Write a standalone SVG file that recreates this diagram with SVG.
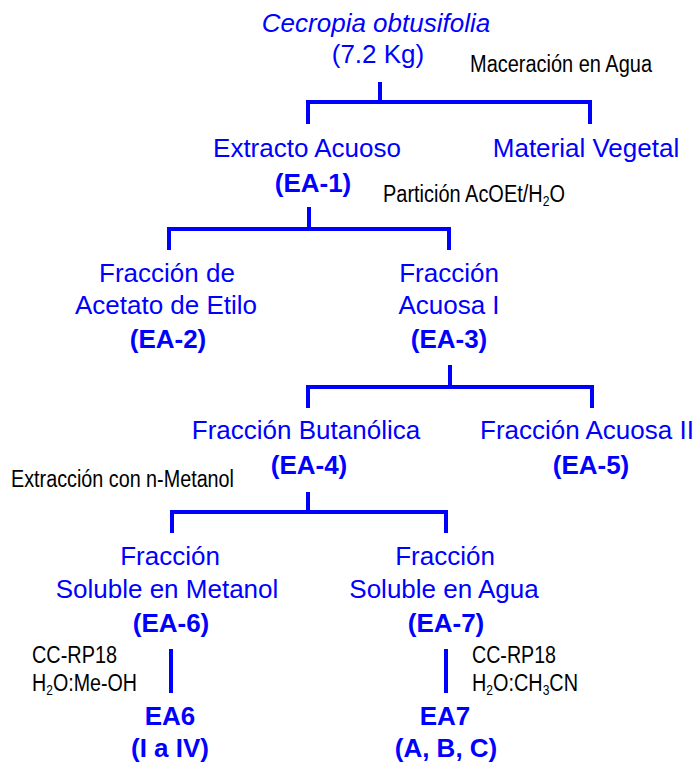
<svg xmlns="http://www.w3.org/2000/svg" width="698" height="765" viewBox="0 0 698 765">
<style>
.b{font-family:"Liberation Sans",Arial,sans-serif;font-size:26px;fill:#0000FF;text-anchor:middle}
.bb{font-weight:bold}
.it{font-style:italic}
.k{font-family:"Liberation Sans",Arial,sans-serif;font-size:23px;fill:#000000}
.s{font-size:14px;baseline-shift:-4px}
.ln{fill:none;stroke:#0000FF;stroke-width:4;stroke-linecap:butt;stroke-linejoin:miter}
</style>
<rect width="698" height="765" fill="#FFFFFF"/>
<g id="connectors">
<path class="ln" d="M380,82 V102 M308,124 V102 H590 V124"/>
<path class="ln" d="M309,207 V229 M169,250 V229 H449 V250"/>
<path class="ln" d="M450,365 V387 M308,408 V387 H592 V408"/>
<path class="ln" d="M308,492 V512 M172,533 V512 H446 V533"/>
<path class="ln" d="M171,649 V693"/>
<path class="ln" d="M446,649 V693"/>
</g>
<g id="labels">
<text class="k" x="470" y="72" textLength="182" lengthAdjust="spacingAndGlyphs">Maceración en Agua</text>
<text class="k" x="383" y="202" textLength="182" lengthAdjust="spacingAndGlyphs">Partición AcOEt/H<tspan class="s">2</tspan>O</text>
<text class="k" x="11" y="487" textLength="223" lengthAdjust="spacingAndGlyphs">Extracción con n-Metanol</text>
<text class="k" x="32" y="663" textLength="85" lengthAdjust="spacingAndGlyphs">CC-RP18</text>
<text class="k" x="32" y="691" textLength="105" lengthAdjust="spacingAndGlyphs">H<tspan class="s">2</tspan>O:Me-OH</text>
<text class="k" x="472" y="663" textLength="84" lengthAdjust="spacingAndGlyphs">CC-RP18</text>
<text class="k" x="472" y="691" textLength="106" lengthAdjust="spacingAndGlyphs">H<tspan class="s">2</tspan>O:CH<tspan class="s">3</tspan>CN</text>
</g>
<g id="node-cecropia">
<text class="b it" x="376" y="32">Cecropia obtusifolia</text>
<text class="b" x="378" y="63">(7.2 Kg)</text>
</g>
<g id="node-ea1">
<text class="b" x="307" y="157">Extracto Acuoso</text>
<text class="b bb" x="313" y="192">(EA-1)</text>
</g>
<g id="node-material">
<text class="b" x="586" y="157">Material Vegetal</text>
</g>
<g id="node-ea2">
<text class="b" x="167" y="282">Fracción de</text>
<text class="b" x="166" y="314">Acetato de Etilo</text>
<text class="b bb" x="168" y="348">(EA-2)</text>
</g>
<g id="node-ea3">
<text class="b" x="449" y="282">Fracción</text>
<text class="b" x="449" y="314">Acuosa I</text>
<text class="b bb" x="449" y="348">(EA-3)</text>
</g>
<g id="node-ea4">
<text class="b" x="306" y="439">Fracción Butanólica</text>
<text class="b bb" x="309" y="474">(EA-4)</text>
</g>
<g id="node-ea5">
<text class="b" x="587" y="439">Fracción Acuosa II</text>
<text class="b bb" x="591" y="474">(EA-5)</text>
</g>
<g id="node-ea6">
<text class="b" x="170" y="565">Fracción</text>
<text class="b" x="167" y="598">Soluble en Metanol</text>
<text class="b bb" x="171" y="632">(EA-6)</text>
</g>
<g id="node-ea7">
<text class="b" x="445" y="565">Fracción</text>
<text class="b" x="444" y="598">Soluble en Agua</text>
<text class="b bb" x="446" y="632">(EA-7)</text>
</g>
<g id="node-ea6-result">
<text class="b bb" x="170" y="725">EA6</text>
<text class="b bb" x="170" y="757">(I a IV)</text>
</g>
<g id="node-ea7-result">
<text class="b bb" x="445" y="725">EA7</text>
<text class="b bb" x="446" y="757">(A, B, C)</text>
</g>
</svg>
